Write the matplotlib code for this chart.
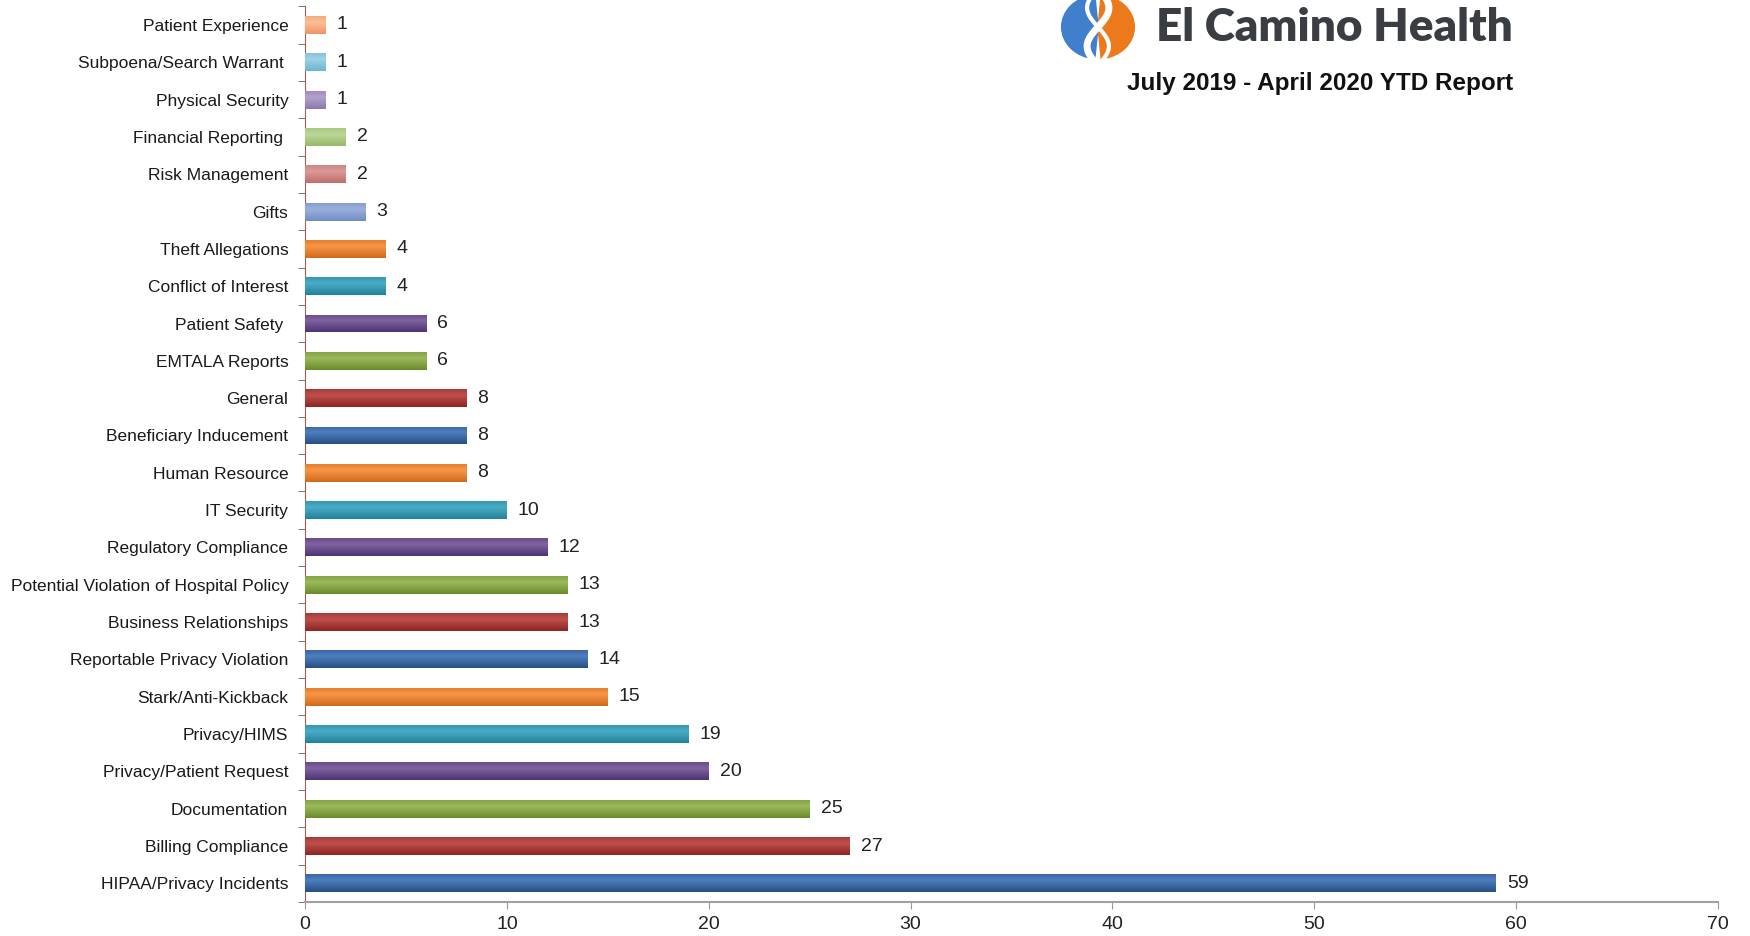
import matplotlib
matplotlib.use("Agg")
import matplotlib.pyplot as plt
from matplotlib.patches import Wedge
from matplotlib.colors import LinearSegmentedColormap
import numpy as np


# Categories, listed from the bottom bar up to the top bar
categories = [
    "HIPAA/Privacy Incidents", "Billing Compliance", "Documentation",
    "Privacy/Patient Request", "Privacy/HIMS", "Stark/Anti-Kickback",
    "Reportable Privacy Violation", "Business Relationships",
    "Potential Violation of Hospital Policy", "Regulatory Compliance",
    "IT Security", "Human Resource", "Beneficiary Inducement", "General",
    "EMTALA Reports", "Patient Safety ", "Conflict of Interest",
    "Theft Allegations", "Gifts", "Risk Management", "Financial Reporting ",
    "Physical Security", "Subpoena/Search Warrant ", "Patient Experience",
]
counts = [59, 27, 25, 20, 19, 15, 14, 13, 13, 12, 10, 8, 8, 8, 6, 6, 4, 4,
          3, 2, 2, 1, 1, 1]

# (top, bottom) shades for each bar - office style accents
base_cycle = [("#4f7fc0", "#264f85"), ("#c0504d", "#8c2522"),
              ("#9bbb59", "#6b8a2e"), ("#8064a2", "#4e3473"),
              ("#4bacc6", "#22829c"), ("#f79646", "#d2691a")]
light_cycle = [("#9bb1dc", "#6f8cc2"), ("#dd9a98", "#bf6e6c"),
               ("#bcd797", "#98b96b"), ("#b3a2ca", "#8d77ad"),
               ("#9fd2e4", "#6cb5cf"), ("#fbbf95", "#ef9566")]
bar_shades = [base_cycle[i % 6] for i in range(18)] + light_cycle

title = "El Camino Health"
subtitle = "July 2019 - April 2020 YTD Report"
xticks = [0, 10, 20, 30, 40, 50, 60, 70]

arial = ["Liberation Sans", "DejaVu Sans"]

fig = plt.figure(figsize=(17.5, 9.36), dpi=100)
ax = fig.add_axes([0.1743, 0.0363, 0.8074, 0.957])

ypos = np.arange(len(categories))
bars = ax.barh(ypos, counts, height=0.48, color="none", zorder=3)

# shade each bar from light top to dark bottom
for bar, (top_c, bot_c) in zip(bars, bar_shades):
    cmap = LinearSegmentedColormap.from_list("g", [bot_c, top_c, bot_c])
    grad = np.linspace(0.0, 0.75, 64).reshape(-1, 1)
    x0, y0 = bar.get_x(), bar.get_y()
    w, h = bar.get_width(), bar.get_height()
    im = ax.imshow(grad, cmap=cmap, vmin=0, vmax=1, aspect="auto",
                   extent=(x0, x0 + w, y0, y0 + h), origin="lower",
                   interpolation="bicubic", zorder=3)
    im.set_clip_path(bar)

for bar, val in zip(bars, counts):
    ax.annotate(str(val), (bar.get_width(), bar.get_y() + bar.get_height() / 2),
                xytext=(8, 0), textcoords="offset points", va="center",
                ha="left", fontsize=14, family=arial, color="#222222")

ax.set_xlim(0, 70)
ax.set_ylim(-0.5, len(categories) - 0.5)
ax.set_xticks(xticks)
ax.set_xticklabels([str(t) for t in xticks], fontsize=14, family=arial,
                   color="#222222")
ax.set_yticks(ypos)
ax.set_yticklabels(categories, fontsize=12.5, family=arial, color="#1a1a1a")
ax.set_yticks(np.arange(-0.5, len(categories), 1), minor=True)
ax.tick_params(axis="y", which="major", length=0, pad=12)
ax.tick_params(axis="y", which="minor", length=5, color="#8a5a4a", direction="out")
ax.tick_params(axis="x", length=5, color="#999999", pad=5)

for side in ["top", "right"]:
    ax.spines[side].set_visible(False)
ax.spines["left"].set_color("#9a6050")
ax.spines["bottom"].set_color("#a0a0a0")
ax.spines["bottom"].set_linewidth(1.5)

# logo: two coloured halves with a white ribbon between them
lax = fig.add_axes([1058 / 1750, 1 - 62 / 936, 80 / 1750, 70 / 936])
lax.set_xlim(-1.1, 1.1)
lax.set_ylim(-1.1, 1.1)
lax.axis("off")
lax.add_patch(Wedge((0, 0), 1.0, 95, 265, color="#3f7fcc"))
lax.add_patch(Wedge((0, 0), 1.0, -85, 85, color="#ec7a1c"))
t = np.linspace(-1.0, 1.0, 100)
lax.plot(0.3 * np.sin(2.6 * t), t, color="white", lw=5)
lax.plot(-0.3 * np.sin(2.6 * t), t, color="white", lw=3)

fig.text(0.8646, 1 - 41 / 936, title, ha="right", va="baseline", fontsize=33,
         fontweight="heavy", family=["Lato", "DejaVu Sans"], color="#3a3d42")
fig.text(0.8648, 0.911, subtitle, ha="right", va="center", fontsize=17.5,
         fontweight="bold", family=arial, color="#111111")

fig.savefig("out.png", dpi=100)
